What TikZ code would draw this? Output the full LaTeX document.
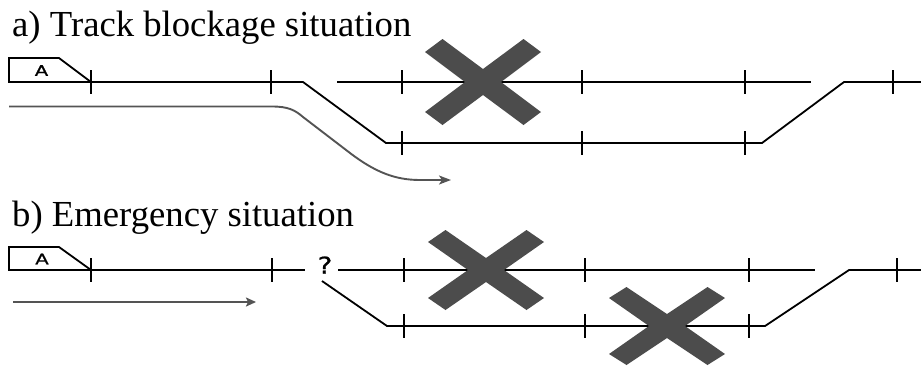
\documentclass[tikz,border=0pt]{standalone}
\usepackage{fontspec}
\setmainfont{Liberation Serif}
\newfontfamily\sanslabel[FakeBold=0.8]{DejaVu Sans}
\usetikzlibrary{arrows.meta}
\definecolor{crossgray}{gray}{0.3}
\definecolor{routegray}{gray}{0.33}
\tikzset{
  x=1pt,y=-1pt,
  track/.style={line width=1.8pt,black,line join=miter},
  tick/.style={line width=2pt,black},
  heading/.style={anchor=base west,inner sep=0pt,font=\fontsize{36.7}{40}\selectfont},
  blockx/.style={fill=crossgray,draw=none},
  trainlabel/.style={inner sep=0pt,font=\sanslabel\fontsize{14.5}{15}\selectfont,xscale=1.35,transform shape},
  route/.style={color=routegray},
  query/.style={inner sep=0pt,font=\sanslabel\fontsize{23}{24}\selectfont,xscale=1.2,transform shape}
}
\newcommand{\vtick}[2]{\draw[tick] (#1,#2-12) -- (#1,#2+12);}
% centre x, centre y, outer-corner height, inner-corner height, notch height
\newcommand{\bigx}[5]{%
  \fill[blockx] (#1,#2-#5) -- (#1+40.5,#2-#3) -- (#1+58,#2-#4) -- (#1+18,#2)
    -- (#1+58,#2+#4) -- (#1+40.5,#2+#3) -- (#1,#2+#5) -- (#1-40.5,#2+#3)
    -- (#1-58,#2+#4) -- (#1-18,#2) -- (#1-58,#2-#4) -- (#1-40.5,#2-#3) -- cycle;}
\begin{document}
\begin{tikzpicture}
\useasboundingbox (0,0) rectangle (921,365);
\clip (0,0) rectangle (921,365);
% headings
\node[heading] (ha) at (12,36.5) {a) Track blockage situation};
\node[heading] (hb) at (12,226) {b) Emergency situation};
% a) train
\coordinate (a0) at (9,82);
\coordinate (a1) at (9,58);
\coordinate (a2) at (59,58);
\coordinate (a3) at (91,82);
\draw[track] (a3) -- (a2) -- (a1) -- (a0) -- cycle;
\node[trainlabel] (la) at (41.5,70.5) {A};
% a) tracks
\coordinate (a4) at (303,82);
\coordinate (a5) at (386,143);
\coordinate (a6) at (762,143);
\coordinate (a7) at (844,82);
\coordinate (a8) at (921,82);
\coordinate (a9) at (337,82);
\coordinate (a10) at (811,82);
\draw[track] (a0) -- (a4) -- (a5) -- (a6) -- (a7) -- (a8);
\draw[track] (a9) -- (a10);
\foreach \x in {91,271,402,582,745,893} {\vtick{\x}{82}}
\foreach \x in {402,582,745} {\vtick{\x}{143}}
% a) route
\coordinate (r0) at (9,106.5);
\coordinate (r1) at (451,180);
\draw[route,line width=1.9pt,-{Stealth[length=12pt,width=9pt,inset=3pt]}] (r0) -- (272,106.5) .. controls (288,106.5) and (295,110) .. (303,117)
  -- (350,153) .. controls (375,172) and (395,180) .. (420,180) -- (r1);
% b) train
\coordinate (b0) at (9,270);
\coordinate (b1) at (9,247);
\coordinate (b2) at (59,247);
\coordinate (b3) at (91,270);
\draw[track] (b3) -- (b2) -- (b1) -- (b0) -- cycle;
\node[trainlabel] (lb) at (42,259) {A};
% b) tracks
\coordinate (b4) at (305,270);
\coordinate (b5) at (338,270);
\coordinate (b6) at (815,270);
\coordinate (b7) at (322,281);
\coordinate (b8) at (387,326);
\coordinate (b9) at (765,326);
\coordinate (b10) at (849,270);
\coordinate (b11) at (921,270);
\draw[track] (b0) -- (b4);
\draw[track] (b5) -- (b6);
\draw[track] (b7) -- (b8) -- (b9) -- (b10) -- (b11);
\foreach \x in {91,272,404,585,749,897} {\vtick{\x}{270}}
\foreach \x in {404,585,749} {\vtick{\x}{326}}
\node[query] (q) at (325,265) {?};
% b) route
\coordinate (s0) at (13,302);
\coordinate (s1) at (256,302);
\draw[route,line width=2.9pt,-{Stealth[length=10pt,width=9pt,inset=2pt]}] (s0) -- (s1);
% crosses
\bigx{483}{82}{43}{30}{13}
\bigx{486}{270}{40}{28}{12}
\bigx{667}{326}{39}{28}{12}
\end{tikzpicture}
\end{document}
